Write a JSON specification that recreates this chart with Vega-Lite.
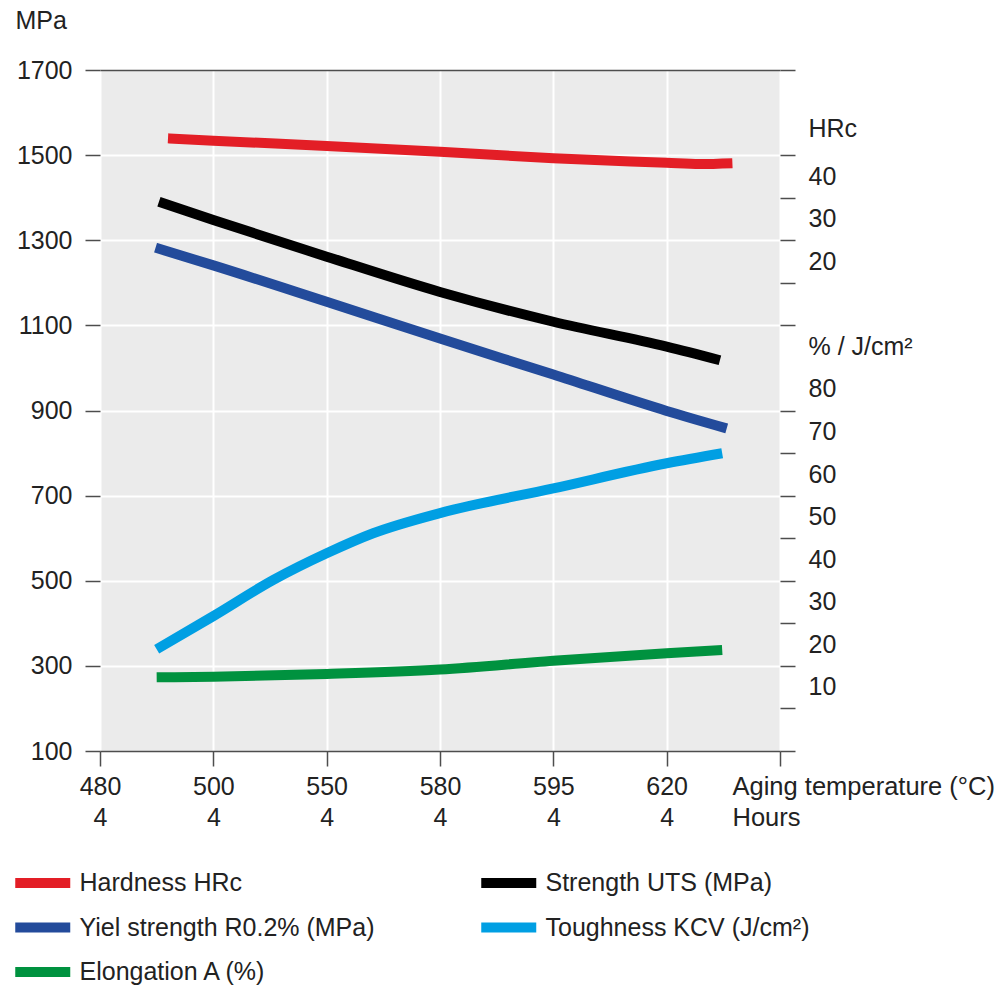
{
  "$schema": "https://vega.github.io/schema/vega-lite/v6.json",
  "autosize": {"type": "none"},
  "padding": {"left": 100, "top": 70, "right": 227, "bottom": 238},
  "width": 680,
  "height": 681,
  "background": "#ffffff",
  "config": {
    "font": "Liberation Sans",
    "view": {"fill": "#ebebeb", "stroke": null},
    "axis": {"labelFont": "Liberation Sans", "titleFont": "Liberation Sans"},
    "legend": {
      "orient": "none",
      "legendX": -76.25,
      "legendY": 794,
      "columns": 2,
      "direction": "horizontal",
      "symbolType": "M-2,0H2",
      "symbolStrokeWidth": 10,
      "symbolSize": 756.25,
      "labelFontSize": 25,
      "labelColor": "#222222",
      "labelOffset": 17.75,
      "labelLimit": 600,
      "rowPadding": 4.5,
      "columnPadding": 86,
      "title": null
    }
  },
  "data": {
    "values": [
      {"s": "Hardness HRc", "i": 0.6, "v": 1539.5},
      {"s": "Hardness HRc", "i": 1, "v": 1534},
      {"s": "Hardness HRc", "i": 2, "v": 1521.5},
      {"s": "Hardness HRc", "i": 3, "v": 1508},
      {"s": "Hardness HRc", "i": 4, "v": 1492.5},
      {"s": "Hardness HRc", "i": 5, "v": 1482},
      {"s": "Hardness HRc", "i": 5.29, "v": 1479},
      {"s": "Hardness HRc", "i": 5.58, "v": 1481},
      {"s": "Strength UTS (MPa)", "i": 0.52, "v": 1390.5},
      {"s": "Strength UTS (MPa)", "i": 1, "v": 1347.5},
      {"s": "Strength UTS (MPa)", "i": 2, "v": 1261.5},
      {"s": "Strength UTS (MPa)", "i": 3, "v": 1178.5},
      {"s": "Strength UTS (MPa)", "i": 4, "v": 1108.5},
      {"s": "Strength UTS (MPa)", "i": 5, "v": 1050},
      {"s": "Strength UTS (MPa)", "i": 5.47, "v": 1018},
      {"s": "Yiel strength R0.2% (MPa)", "i": 0.49, "v": 1282.5},
      {"s": "Yiel strength R0.2% (MPa)", "i": 1, "v": 1241},
      {"s": "Yiel strength R0.2% (MPa)", "i": 2, "v": 1155.5},
      {"s": "Yiel strength R0.2% (MPa)", "i": 3, "v": 1069},
      {"s": "Yiel strength R0.2% (MPa)", "i": 4, "v": 984.5},
      {"s": "Yiel strength R0.2% (MPa)", "i": 5, "v": 899},
      {"s": "Yiel strength R0.2% (MPa)", "i": 5.53, "v": 858},
      {"s": "Toughness KCV (J/cm²)", "i": 0.5, "v": 339},
      {"s": "Toughness KCV (J/cm²)", "i": 1, "v": 417},
      {"s": "Toughness KCV (J/cm²)", "i": 1.53, "v": 502},
      {"s": "Toughness KCV (J/cm²)", "i": 2, "v": 564.5},
      {"s": "Toughness KCV (J/cm²)", "i": 2.41, "v": 611.5},
      {"s": "Toughness KCV (J/cm²)", "i": 3, "v": 659},
      {"s": "Toughness KCV (J/cm²)", "i": 4, "v": 717},
      {"s": "Toughness KCV (J/cm²)", "i": 5, "v": 776},
      {"s": "Toughness KCV (J/cm²)", "i": 5.49, "v": 799.5},
      {"s": "Elongation A (%)", "i": 0.5, "v": 273},
      {"s": "Elongation A (%)", "i": 1, "v": 274.5},
      {"s": "Elongation A (%)", "i": 2, "v": 281},
      {"s": "Elongation A (%)", "i": 3, "v": 291.5},
      {"s": "Elongation A (%)", "i": 4, "v": 312},
      {"s": "Elongation A (%)", "i": 5, "v": 329.5},
      {"s": "Elongation A (%)", "i": 5.49, "v": 337.5}
    ]
  },
  "encoding": {
    "x": {
      "field": "i", "type": "quantitative",
      "scale": {"domain": [0, 6], "nice": false, "zero": false},
      "axis": {
        "values": [0, 1, 2, 3, 4, 5, 6],
        "tickSize": 15, "tickColor": "#4d4d4d", "tickWidth": 1.5,
        "domainColor": "#4d4d4d", "domainWidth": 1.5,
        "grid": true, "gridColor": "#ffffff", "gridWidth": 2,
        "labelExpr": "datum.value <= 5 ? [['480','500','550','580','595','620'][datum.value], '4'] : ''",
        "labelFontSize": 25, "labelColor": "#222222",
        "labelPadding": 8, "labelLineHeight": 31, "labelBaseline": "top",
        "labelFlush": false, "labelOverlap": false, "labelBound": false,
        "title": ["Aging temperature (°C)", "Hours"],
        "titleX": 632, "titleY": 23, "titleAlign": "left", "titleBaseline": "top",
        "titleAnchor": "start", "titleLineHeight": 31,
        "titleFontWeight": "normal", "titleFontSize": 25.5, "titleColor": "#222222"
      }
    }
  },
  "layer": [
    {
      "mark": {"type": "line", "strokeWidth": 10, "interpolate": "monotone", "strokeCap": "butt"},
      "encoding": {
        "y": {
          "field": "v", "type": "quantitative",
          "scale": {"domain": [100, 1700], "nice": false, "zero": false},
          "axis": {
            "orient": "left",
            "values": [100, 300, 500, 700, 900, 1100, 1300, 1500, 1700],
            "format": "d",
            "tickSize": 15, "tickColor": "#4d4d4d", "tickWidth": 1.5,
            "domain": false,
            "grid": true,
            "gridColor": {"condition": {"test": "datum.value == 1700", "value": "#4d4d4d"}, "value": "#ffffff"},
            "gridWidth": {"condition": {"test": "datum.value == 1700", "value": 1.5}, "value": 2},
            "gridOpacity": {"condition": {"test": "datum.value == 100", "value": 0}, "value": 1},
            "labelFontSize": 25, "labelColor": "#222222", "labelPadding": 13,
            "labelOverlap": false, "labelFlush": false,
            "title": "MPa", "titleAngle": 0, "titleX": -85, "titleY": -42,
            "titleAlign": "left", "titleBaseline": "alphabetic",
            "titleFontWeight": "normal", "titleFontSize": 25, "titleColor": "#222222"
          }
        },
        "color": {
          "field": "s", "type": "nominal",
          "scale": {
            "domain": ["Hardness HRc", "Strength UTS (MPa)", "Yiel strength R0.2% (MPa)", "Toughness KCV (J/cm²)", "Elongation A (%)"],
            "range": ["#e31e26", "#000000", "#234b9b", "#009fe3", "#00923f"]
          },
          "legend": {}
        }
      }
    },
    {
      "mark": {"type": "point", "opacity": 0},
      "encoding": {
        "y": {
          "field": "v", "type": "quantitative",
          "scale": {"domain": [100, 1700], "nice": false, "zero": false},
          "axis": {
            "orient": "right",
            "values": [100, 200, 300, 400, 500, 600, 700, 800, 900, 1000, 1100, 1200, 1300, 1400, 1500, 1600, 1700],
            "tickSize": 15, "tickColor": "#4d4d4d", "tickWidth": 1.5,
            "tickOpacity": {"condition": {"test": "datum.value == 1000 || datum.value == 1600", "value": 0}, "value": 1},
            "domain": false, "grid": false,
            "labelExpr": "datum.value == 1600 ? 'HRc' : datum.value == 1500 ? '40' : datum.value == 1400 ? '30' : datum.value == 1300 ? '20' : datum.value == 1100 ? '% / J/cm²' : datum.value == 1000 ? '80' : datum.value == 900 ? '70' : datum.value == 800 ? '60' : datum.value == 700 ? '50' : datum.value == 600 ? '40' : datum.value == 500 ? '30' : datum.value == 400 ? '20' : datum.value == 300 ? '10' : ''",
            "labelOffset": {"condition": {"test": "datum.value == 1600", "value": 16}, "value": 21},
            "labelAlign": "left", "labelPadding": 13,
            "labelFontSize": 25, "labelColor": "#222222",
            "labelOverlap": false, "labelFlush": false,
            "title": null
          }
        }
      }
    }
  ],
  "resolve": {"axis": {"y": "independent"}}
}
